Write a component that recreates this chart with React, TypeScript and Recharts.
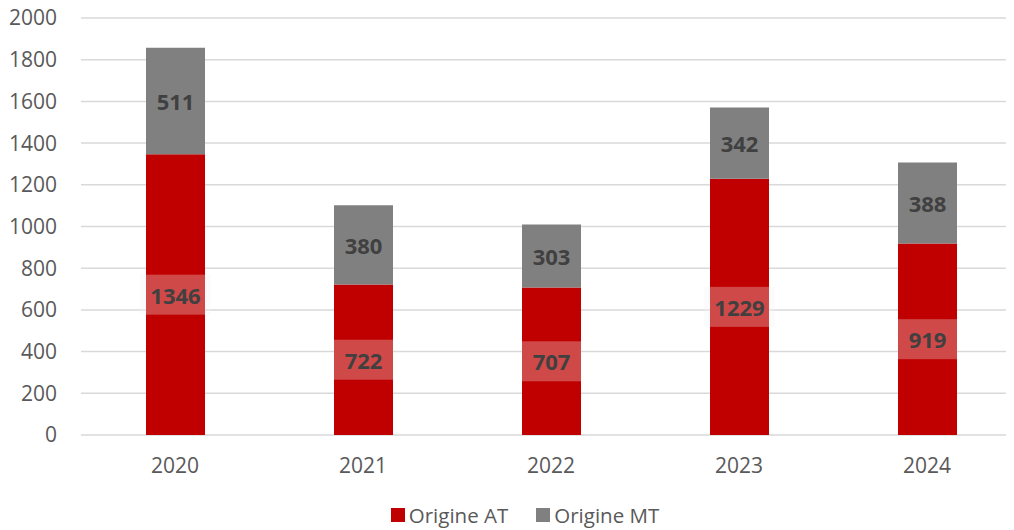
import React from 'react';
import { BarChart, Bar, XAxis, YAxis, CartesianGrid, LabelList } from 'recharts';

const years = ['2020', '2021', '2022', '2023', '2024'];
const origineAT = [1346, 722, 707, 1229, 919];
const origineMT = [511, 380, 303, 342, 388];
const yTicks = [0, 200, 400, 600, 800, 1000, 1200, 1400, 1600, 1800, 2000];
const seriesNames = ['Origine AT', 'Origine MT'];

const data = years.map((y, i) => ({ year: y, at: origineAT[i], mt: origineMT[i] }));

const FONT = '"Open Sans", sans-serif';
const RED = '#C00000';
const GRAY = '#808080';
const seriesColors = [RED, GRAY];

const RedLabel = (props: any) => {
  const x = Number(props.x), y = Number(props.y), width = Number(props.width), height = Number(props.height);
  const value = props.value;
  const cx = x + width / 2;
  const cy = y + height / 2;
  const tw = String(value).length * 12.6 + 20;
  const w = Math.max(width, tw);
  return (
    <g>
      <rect x={cx - w / 2} y={cy - 20} width={w} height={40} fill="#F2F2F2" fillOpacity={0.3} />
      <text x={cx} y={cy} textAnchor="middle" dominantBaseline="central" fontFamily={FONT} fontWeight={700} fontSize={22} fill="#404040">
        {value}
      </text>
    </g>
  );
};

const GrayLabel = (props: any) => {
  const x = Number(props.x), y = Number(props.y), width = Number(props.width), height = Number(props.height);
  return (
    <text x={x + width / 2} y={y + height / 2} textAnchor="middle" dominantBaseline="central" fontFamily={FONT} fontWeight={700} fontSize={22} fill="#404040">
      {props.value}
    </text>
  );
};

export default function App() {
  return (
    <div style={{ marginTop: -8, marginLeft: -8, width: 1014, height: 530, overflow: 'hidden', position: 'relative' }}>
      <BarChart width={1021} height={490} data={data} margin={{ top: 18, right: 0, left: 0, bottom: 0 }} barSize={59}>
        <CartesianGrid vertical={false} stroke="#D9D9D9" strokeWidth={1.5} />
        <XAxis dataKey="year" axisLine={false} tickLine={false} height={55} tickMargin={17}
          tick={{ fontFamily: FONT, fontSize: 21, fill: '#595959' }} />
        <YAxis domain={[0, 2000]} ticks={yTicks} axisLine={false} tickLine={false} width={81} tickMargin={18} interval={0}
          tick={{ fontFamily: FONT, fontSize: 21, fill: '#595959' }} />
        <Bar dataKey="at" stackId="s" fill={RED} isAnimationActive={false}>
          <LabelList dataKey="at" content={<RedLabel />} />
        </Bar>
        <Bar dataKey="mt" stackId="s" fill={GRAY} isAnimationActive={false}>
          <LabelList dataKey="mt" content={<GrayLabel />} />
        </Bar>
      </BarChart>
      <div style={{ position: 'absolute', left: 0, width: 1050, top: 505, height: 20, display: 'flex', justifyContent: 'center', alignItems: 'center', fontFamily: FONT, fontSize: 20.5, color: '#595959', lineHeight: '20px' }}>
        {seriesNames.map((t, i) => (
          <div key={i} style={{ display: 'flex', alignItems: 'center', marginLeft: i ? 28 : 0 }}>
            <span style={{ display: 'inline-block', width: 14, height: 14, background: seriesColors[i], marginRight: 4 }} />
            <span>{t}</span>
          </div>
        ))}
      </div>
    </div>
  );
}
